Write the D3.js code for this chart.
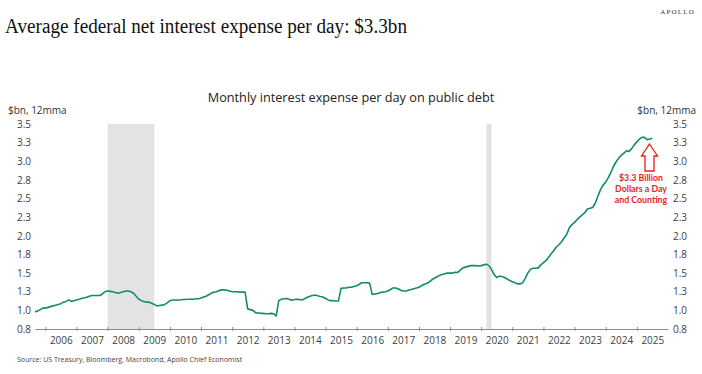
<!DOCTYPE html>
<html>
<head>
<meta charset="utf-8">
<script src="https://cdn.jsdelivr.net/npm/d3@7"></script>
<style>
body{margin:0;background:#fff;}
</style>
</head>
<body>
<script>
// monthly interest expense per day, $bn, 12m moving average, from Sep 2005
var firstMonth = '2005-09';
var values = [
	0.98, 0.99, 1.01, 1.03,                                                  // 2005 Sep-Dec
	1.03, 1.04, 1.05, 1.06, 1.07, 1.08, 1.09, 1.11, 1.12, 1.14, 1.12, 1.13,   // 2006
	1.14, 1.15, 1.16, 1.17, 1.175, 1.19, 1.20, 1.20, 1.20, 1.20, 1.22, 1.25,  // 2007
	1.26, 1.255, 1.25, 1.24, 1.23, 1.24, 1.25, 1.26, 1.26, 1.25, 1.23, 1.19,  // 2008
	1.15, 1.13, 1.12, 1.11, 1.11, 1.095, 1.08, 1.06, 1.065, 1.07, 1.08, 1.10, // 2009
	1.13, 1.14, 1.14, 1.14, 1.14, 1.145, 1.145, 1.15, 1.15, 1.15, 1.155, 1.156, // 2010
	1.165, 1.18, 1.19, 1.21, 1.23, 1.245, 1.25, 1.265, 1.275, 1.277, 1.27, 1.26, // 2011
	1.25, 1.25, 1.25, 1.245, 1.245, 1.245, 1.02, 1.01, 1.00, 0.97, 0.965, 0.96,  // 2012
	0.96, 0.955, 0.955, 0.96, 0.955, 0.925, 1.13, 1.15, 1.155, 1.16, 1.15, 1.135, // 2013
	1.145, 1.15, 1.145, 1.14, 1.155, 1.175, 1.19, 1.20, 1.206, 1.195, 1.185, 1.18, // 2014
	1.16, 1.14, 1.13, 1.13, 1.125, 1.125, 1.295, 1.30, 1.30, 1.31, 1.31, 1.32,  // 2015
	1.33, 1.35, 1.37, 1.37, 1.37, 1.365, 1.215, 1.22, 1.225, 1.235, 1.245, 1.25, // 2016
	1.26, 1.28, 1.30, 1.30, 1.29, 1.27, 1.26, 1.26, 1.27, 1.28, 1.29, 1.30,   // 2017
	1.31, 1.33, 1.35, 1.36, 1.38, 1.41, 1.43, 1.45, 1.47, 1.48, 1.49, 1.50,   // 2018
	1.50, 1.50, 1.51, 1.51, 1.54, 1.57, 1.58, 1.59, 1.60, 1.60, 1.60, 1.595,  // 2019
	1.60, 1.61, 1.62, 1.60, 1.55, 1.48, 1.44, 1.46, 1.455, 1.44, 1.42, 1.40,  // 2020
	1.385, 1.37, 1.355, 1.355, 1.37, 1.43, 1.50, 1.55, 1.565, 1.565, 1.57, 1.61, // 2021
	1.64, 1.67, 1.71, 1.76, 1.80, 1.85, 1.88, 1.92, 1.97, 2.02, 2.11, 2.15,   // 2022
	2.18, 2.22, 2.25, 2.28, 2.31, 2.36, 2.37, 2.38, 2.44, 2.53, 2.62, 2.68,   // 2023
	2.72, 2.78, 2.85, 2.93, 2.99, 3.04, 3.08, 3.11, 3.14, 3.13, 3.17, 3.22,   // 2024
	3.26, 3.30, 3.32, 3.32, 3.29, 3.30, 3.31                                  // 2025 Jan-Jul
];
var yTicks = [0.75, 1.0, 1.25, 1.5, 1.75, 2.0, 2.25, 2.5, 2.75, 3.0, 3.25, 3.5];
var years = [2006, 2007, 2008, 2009, 2010, 2011, 2012, 2013, 2014, 2015,
	2016, 2017, 2018, 2019, 2020, 2021, 2022, 2023, 2024, 2025];
var recessions = [['2008-01', '2009-07'], ['2020-03', '2020-05']];
var noteLines = ['$3.3 Billion', 'Dollars a Day', 'and Counting'];

var width = 702, height = 374;
var plotLeft = 35, plotRight = 668, plotTop = 124, plotBottom = 329;
var sans = "'Open Sans', 'Noto Sans', sans-serif";

var parseMonth = d3.timeParse('%Y-%m');
var start = parseMonth(firstMonth);
var data = values.map(function(v, i){ return {date: d3.timeMonth.offset(start, i), value: v}; });

var x = d3.scaleTime().domain([start, new Date(2026, 0, 1)]).range([plotLeft, plotRight]);
var y = d3.scaleLinear().domain([0.75, 3.5]).range([plotBottom, plotTop]);

var svg = d3.select('body').append('svg').attr('width', width).attr('height', height)
	.style('font-family', sans);

// headline
svg.append('text').text('Average federal net interest expense per day: $3.3bn')
	.attr('x', 5).attr('y', 33)
	.attr('textLength', 402).attr('lengthAdjust', 'spacingAndGlyphs')
	.style('font-family', "'Liberation Serif', 'DejaVu Serif', serif")
	.style('font-size', 20).attr('fill', '#111');

svg.append('text').text('APOLLO')
	.attr('x', 695).attr('y', 14).attr('text-anchor', 'end')
	.style('font-family', "'Liberation Serif', serif")
	.style('font-size', 7).style('letter-spacing', '1.2px').attr('fill', '#333');

svg.append('text').text('Monthly interest expense per day on public debt')
	.attr('x', 351).attr('y', 102).attr('text-anchor', 'middle')
	.style('font-size', 12.7).attr('fill', '#222');

svg.append('text').text('$bn, 12mma').attr('x', 8).attr('y', 114)
	.style('font-size', 10).attr('fill', '#333');
svg.append('text').text('$bn, 12mma').attr('x', 696).attr('y', 114).attr('text-anchor', 'end')
	.style('font-size', 10).attr('fill', '#333');

// recession bands
svg.selectAll('rect.rec').data(recessions).enter().append('rect')
	.attr('class', 'rec')
	.attr('x', function(d){ return x(parseMonth(d[0])); })
	.attr('width', function(d){ return x(parseMonth(d[1])) - x(parseMonth(d[0])); })
	.attr('y', plotTop).attr('height', plotBottom - plotTop)
	.attr('fill', '#e2e3e2');

// y axes
var fmt = d3.format('.1f');
var yl = svg.append('g').attr('transform', 'translate(' + plotLeft + ',0)')
	.call(d3.axisLeft(y).tickValues(yTicks).tickSize(0).tickPadding(4).tickFormat(fmt));
var yr = svg.append('g').attr('transform', 'translate(' + plotRight + ',0)')
	.call(d3.axisRight(y).tickValues(yTicks).tickSize(0).tickPadding(5).tickFormat(fmt));
[yl, yr].forEach(function(g){
	g.select('.domain').remove();
	g.selectAll('text').style('font-size', 10).style('font-family', sans).attr('fill', '#404040');
});

// x axis
var xa = svg.append('g').attr('transform', 'translate(0,' + plotBottom + ')')
	.call(d3.axisBottom(x).tickValues(years.map(function(yr){ return new Date(yr, 0, 1); }))
		.tickSizeOuter(0).tickFormat(''));
xa.select('.domain').attr('stroke', '#8c8c8c');
xa.selectAll('.tick line').attr('y1', -2).attr('y2', 2).attr('stroke', '#8c8c8c');

var xl = svg.append('g').attr('transform', 'translate(0,' + plotBottom + ')')
	.call(d3.axisBottom(x).tickValues(years.map(function(yr){ return new Date(yr, 6, 1); }))
		.tickSize(0).tickPadding(8).tickFormat(d3.timeFormat('%Y')));
xl.select('.domain').remove();
xl.selectAll('text').style('font-size', 10).style('font-family', sans).attr('fill', '#404040');

// series
var line = d3.line().x(function(d){ return x(d.date); }).y(function(d){ return y(d.value); });
svg.append('path').datum(data).attr('d', line)
	.attr('fill', 'none').attr('stroke', '#148b6b').attr('stroke-width', 1.6)
	.attr('stroke-linejoin', 'round');

// annotation arrow
var ax = 649.5;
var arrow = [[ax, 144], [ax + 8, 156], [ax + 4.5, 156], [ax + 4.5, 171],
	[ax - 4.5, 171], [ax - 4.5, 156], [ax - 8, 156]];
svg.append('polygon').attr('points', arrow.map(function(p){ return p.join(','); }).join(' '))
	.attr('fill', '#fff').attr('stroke', '#ee1c1c').attr('stroke-width', 1.3);

svg.selectAll('text.note').data(noteLines).enter().append('text')
	.attr('class', 'note').text(function(d){ return d; })
	.attr('x', 641).attr('y', function(d, i){ return 181 + i * 10.8; })
	.attr('text-anchor', 'middle')
	.style('font-family', "Lato, 'Open Sans', sans-serif").style('font-weight', 'bold')
	.style('font-size', 8.8).attr('fill', '#ee1c1c');

svg.append('text').text('Source: US Treasury, Bloomberg, Macrobond, Apollo Chief Economist')
	.attr('x', 17).attr('y', 362).style('font-size', 7).attr('fill', '#444');
</script>
</body>
</html>
